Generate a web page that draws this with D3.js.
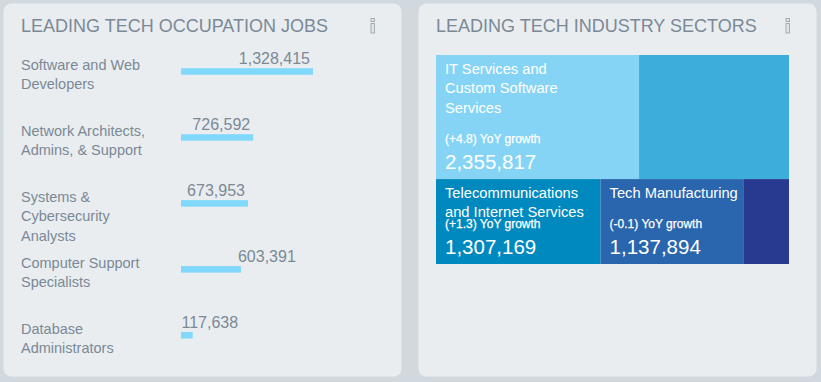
<!DOCTYPE html>
<html>
<head>
<meta charset="utf-8">
<script src="https://cdn.jsdelivr.net/npm/d3@7"></script>
<style>
  html, body { margin: 0; padding: 0; background: #d1d9df; }
  svg { display: block; font-family: "Liberation Sans", Arial, sans-serif; }
</style>
</head>
<body>
<svg id="chart" width="821" height="382"></svg>
<script>
// ---- Data ----
const occupationTitle = "LEADING TECH OCCUPATION JOBS";
const occupations = [
  "Software and Web Developers",
  "Network Architects, Admins, & Support",
  "Systems & Cybersecurity Analysts",
  "Computer Support Specialists",
  "Database Administrators"
];
const occupationJobs = [1328415, 726592, 673953, 603391, 117638];

const sectorTitle = "LEADING TECH INDUSTRY SECTORS";
const sectorNames = [
  "IT Services and Custom Software Services",
  "Other Sectors A",
  "Telecommunications and Internet Services",
  "Tech Manufacturing",
  "Other Sectors B"
];
const sectorJobs = [2355817, 1740000, 1307169, 1137894, 358000];
const sectorGrowth = ["+4.8", null, "+1.3", "-0.1", null];
const sectorRow = [0, 0, 1, 1, 1];
const sectorColors = ["#86d4f5", "#3daedc", "#0089bf", "#2a66ae", "#283a8f"];

// ---- Setup ----
const svg = d3.select("#chart");
const fmt = d3.format(",");
const textColor = "#7b8997";

// panels
const panels = [{x: 3.5, title: occupationTitle}, {x: 418.5, title: sectorTitle}];
panels.forEach(p => {
  svg.append("rect").attr("x", p.x).attr("y", 3.5).attr("width", 398).attr("height", 373)
    .attr("rx", 8).attr("fill", "#e9edf0");
  svg.append("text").attr("x", p.x + 17.5).attr("y", 31.7)
    .attr("font-size", 18).attr("fill", textColor).text(p.title);
  // info icon
  const ix = p.x + 367.5;
  svg.append("rect").attr("x", ix).attr("y", 18.5).attr("width", 3.5).attr("height", 3)
    .attr("fill", "#dde3e6").attr("stroke", "#a2adb4").attr("stroke-width", 1);
  svg.append("rect").attr("x", ix).attr("y", 23.5).attr("width", 3.5).attr("height", 9.5)
    .attr("fill", "#dde3e6").attr("stroke", "#a2adb4").attr("stroke-width", 1);
});

function wrapWords(textSel, str, maxW, x, y0, lh) {
  const words = str.split(" ");
  let line = [];
  let tspan = textSel.append("tspan").attr("x", x).attr("y", y0);
  let n = 0;
  words.forEach(w => {
    line.push(w);
    tspan.text(line.join(" "));
    if (tspan.node().getComputedTextLength() > maxW && line.length > 1) {
      line.pop();
      tspan.text(line.join(" "));
      line = [w];
      n++;
      tspan = textSel.append("tspan").attr("x", x).attr("y", y0 + n * lh).text(w);
    }
  });
}

// ---- Bar chart ----
const x0 = 181;
const x = d3.scaleLinear().domain([0, d3.max(occupationJobs)]).range([x0, 313]);
const y = d3.scalePoint().domain(occupations).range([71.5, 335.3]);
const barH = 6.5;

const g1 = svg.append("g");
occupations.forEach((c, i) => {
  const cy = y(c);
  const v = occupationJobs[i];
  g1.append("rect").attr("x", x0).attr("y", cy - barH / 2)
    .attr("width", x(v) - x0).attr("height", barH).attr("fill", "#80d8fd");
  const t = g1.append("text").attr("font-size", 14.5).attr("fill", textColor);
  wrapWords(t, c, 140, 21, cy - 1.6, 19.4);

  const lbl = g1.append("text").attr("font-size", 16).attr("fill", textColor)
    .attr("y", cy - barH / 2 - 4).text(fmt(v));
  const w = lbl.node().getComputedTextLength();
  const end = x(v) - 3;
  if (end - w >= x0 + 2) {
    lbl.attr("x", end).attr("text-anchor", "end");
  } else if (x(v) - x0 > 30 && end + w <= 300) {
    lbl.attr("x", end);
  } else {
    lbl.attr("x", x0 + 0.5);
  }
});

// ---- Treemap ----
const tmX = 436, tmY = 55, tmW = 353, tmH = 209;
const rows = d3.groups(sectorNames.map((n, i) => ({name: n, value: sectorJobs[i], growth: sectorGrowth[i], color: sectorColors[i], row: sectorRow[i]})), d => d.row)
  .map(([k, items]) => ({name: "row" + k, children: items}));
const root = d3.hierarchy({name: "root", children: rows}).sum(d => d.children ? 0 : d.value);
d3.treemap()
  .size([tmW, tmH])
  .round(false)
  .tile((node, a, b, c, d) => (node.depth & 1 ? d3.treemapDice : d3.treemapSlice)(node, a, b, c, d))(root);

const g2 = svg.append("g").attr("transform", `translate(${tmX},${tmY})`);
root.leaves().forEach(leaf => {
  const d = leaf.data;
  g2.append("rect").attr("x", leaf.x0).attr("y", leaf.y0)
    .attr("width", leaf.x1 - leaf.x0).attr("height", leaf.y1 - leaf.y0)
    .attr("fill", d.color);
  if (d.growth !== null) {
    const lx = leaf.x0 + 9;
    const t = g2.append("text").attr("font-size", 14.7).attr("fill", "#ffffff");
    wrapWords(t, d.name, Math.min(150, leaf.x1 - leaf.x0 - 9), lx, leaf.y0 + 19, 19.4);
    const vb = leaf.y1 - 10.5;
    g2.append("text").attr("x", lx).attr("y", vb - 25.3).attr("font-size", 12)
      .attr("fill", "#ffffff").attr("stroke", "#ffffff").attr("stroke-width", 0.25)
      .text(`(${d.growth}) YoY growth`);
    g2.append("text").attr("x", lx).attr("y", vb).attr("font-size", 20.5)
      .attr("fill", "#ffffff").text(fmt(d.value));
  }
});
</script>
</body>
</html>
